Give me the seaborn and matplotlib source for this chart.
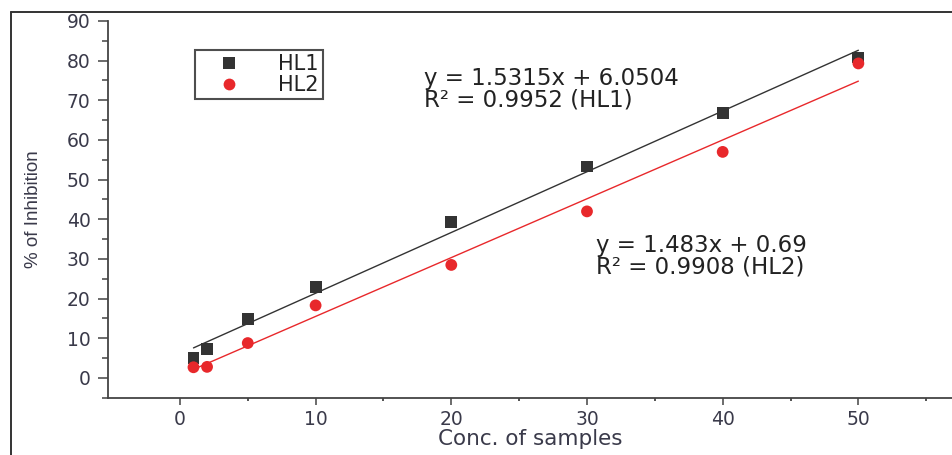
import matplotlib
matplotlib.use("Agg")
import matplotlib.pyplot as plt
from matplotlib.lines import Line2D
import numpy as np
import pandas as pd
import seaborn as sns

# ---- data ----
conc = [1, 2, 5, 10, 20, 30, 40, 50]
hl1 = [5.0, 7.3, 14.8, 23.0, 39.3, 53.3, 66.8, 80.8]
hl2 = [2.7, 2.8, 8.8, 18.3, 28.5, 42.0, 57.0, 79.3]
series_names = ["HL1", "HL2"]
fit_slope = [1.5315, 1.483]
fit_intercept = [6.0504, 0.69]
fit_range = [1, 50]
eq_texts = ["y = 1.5315x + 6.0504\nR\u00b2 = 0.9952 (HL1)",
            "y = 1.483x + 0.69\nR\u00b2 = 0.9908 (HL2)"]
yticks = [0, 10, 20, 30, 40, 50, 60, 70, 80, 90]
xticks = [0, 10, 20, 30, 40, 50]

df = pd.DataFrame({
    "conc": conc * 2,
    "inh": hl1 + hl2,
    "sample": [series_names[0]] * len(conc) + [series_names[1]] * len(conc),
})
fit_rows = []
for name, m, b in zip(series_names, fit_slope, fit_intercept):
    for xv in fit_range:
        fit_rows.append({"conc": xv, "inh": m * xv + b, "sample": name})
fit_df = pd.DataFrame(fit_rows)

sns.set_theme(style="white")
plt.rcParams["font.family"] = ["DejaVu Sans"]

W, H = 952, 455
fig = plt.figure(figsize=(W / 100, H / 100), dpi=100)
ax = fig.add_axes([108 / W, (H - 398) / H, 1 - 108 / W, (398 - 21) / H])

red = "#e8282b"
palette = {"HL1": "#333333", "HL2": red}

sns.lineplot(data=fit_df, x="conc", y="inh", hue="sample", palette=palette,
             linewidth=1.0, legend=False, ax=ax)
sns.scatterplot(data=df, x="conc", y="inh", hue="sample", style="sample",
                markers={"HL1": "s", "HL2": "o"}, palette=palette,
                s=72, edgecolor="none", linewidth=0, ax=ax, zorder=3)

ax.set_xlim(-5.3, 56.9)
ax.set_ylim(-5.05, 90)
ax.set_xticks(xticks)
ax.set_yticks(yticks)
ax.set_xticks([5, 15, 25, 35, 45, 55], minor=True)
ax.set_yticks([-5, 5, 15, 25, 35, 45, 55, 65, 75, 85], minor=True)

for side in ["top", "right"]:
    ax.spines[side].set_visible(False)
for side in ["left", "bottom"]:
    ax.spines[side].set_color("#444444")
    ax.spines[side].set_linewidth(1.3)

tick_col = "#3a3a4a"
ax.tick_params(axis="y", which="major", direction="out", length=7.5, width=1.1,
               color="#444444", pad=5, labelsize=13.5, labelcolor=tick_col, left=True)
ax.tick_params(axis="y", which="minor", direction="out", length=4, width=1.1,
               color="#444444", left=True)
ax.tick_params(axis="x", which="major", direction="out", length=5, width=1.1,
               color="#444444", pad=3.5, labelsize=13.5, labelcolor=tick_col, bottom=True)
ax.tick_params(axis="x", which="minor", direction="out", length=2.5, width=1.3,
               color="#444444", bottom=True)

ax.set_xlabel("Conc. of samples", fontsize=15.5, color=tick_col, va="top")
ax.xaxis.set_label_coords(0.5, -0.082)
ax.set_ylabel("% of Inhibition", fontsize=13.5, color=tick_col,
              family=["Liberation Sans", "DejaVu Sans"])
ax.yaxis.set_label_coords(-0.078, 0.5)

ax.text(18.0, 78.3, eq_texts[0], fontsize=16.5, color="#222222", va="top",
        ha="left", linespacing=0.92)
ax.text(30.7, 36.4, eq_texts[1], fontsize=16.5, color="#222222", va="top",
        ha="left", linespacing=0.92)

handles, labels = ax.get_legend_handles_labels()
leg = ax.legend(handles, labels, loc="upper left",
                bbox_to_anchor=(195 / W, 1 - 50 / H), bbox_transform=fig.transFigure,
                borderaxespad=0, frameon=True, fancybox=False, fontsize=15,
                handletextpad=0.9, borderpad=0.2, labelspacing=0.05,
                handlelength=2.9, markerscale=1.0)
leg.get_frame().set_edgecolor("#222222")
leg.get_frame().set_linewidth(1.5)
for t in leg.get_texts():
    t.set_color("#222222")

# outer frame of the original figure
fig.add_artist(Line2D([11 / W, 11 / W], [-0.05, 1 - 12 / H], transform=fig.transFigure,
                      color="#333333", linewidth=1.4))
fig.add_artist(Line2D([11 / W, 1.05], [1 - 12 / H, 1 - 12 / H], transform=fig.transFigure,
                      color="#333333", linewidth=1.4))

fig.savefig("out.png", dpi=100)
